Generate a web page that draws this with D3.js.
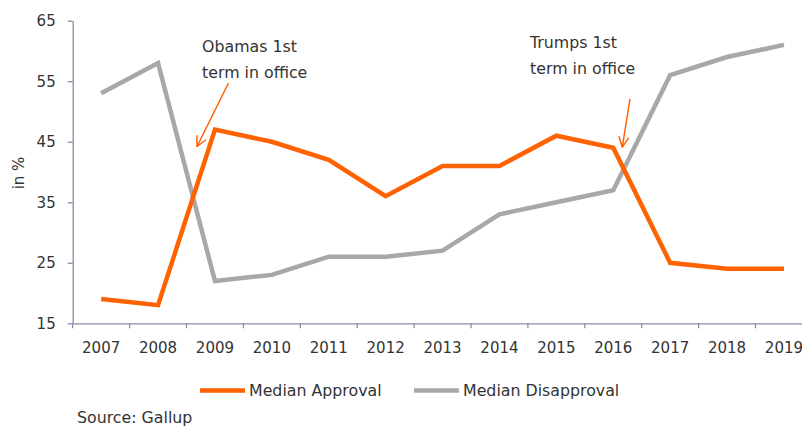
<!DOCTYPE html>
<html>
<head>
<meta charset="utf-8">
<script src="https://cdn.jsdelivr.net/npm/d3@7"></script>
<style>
  body { margin: 0; background: #fff; }
  svg { font-family: "DejaVu Sans", sans-serif; }
</style>
</head>
<body>
<div id="container"></div>
<script>
/* DATA */
const years = [2007, 2008, 2009, 2010, 2011, 2012, 2013, 2014, 2015, 2016, 2017, 2018, 2019];
const approval = [19, 18, 47, 45, 42, 36, 41, 41, 46, 44, 25, 24, 24];
const disapproval = [53, 58, 22, 23, 26, 26, 27, 33, 35, 37, 56, 59, 61];
const yTicks = [15, 25, 35, 45, 55, 65];

/* CONSTANTS */
const width = 802, height = 428;
const margin = { top: 20.7, left: 72.7 };
const plotH = 302.6;
const band = 56.9;
const orange = "#ff6200", grey = "#a8a8a8", axisCol = "#8c8ca6", textCol = "#333";
const fs = 15, fsText = 15.8;

const svg = d3.select("#container")
  .append("svg")
  .attr("width", width)
  .attr("height", height);

const x = d3.scaleBand()
  .domain(years)
  .range([margin.left, margin.left + band * years.length]);

const y = d3.scaleLinear()
  .domain([15, 65])
  .range([margin.top + plotH, margin.top]);

// Y AXIS
const yAxis = svg.append("g")
  .attr("transform", `translate(${margin.left},0)`)
  .call(d3.axisLeft(y).tickValues(yTicks).tickSize(5).tickSizeOuter(0).tickPadding(12));
yAxis.select(".domain").attr("stroke", axisCol).attr("stroke-width", 1.3);
yAxis.selectAll(".tick line").attr("stroke", axisCol).attr("stroke-width", 1.3);
yAxis.selectAll("text").attr("fill", textCol).attr("font-size", fs).attr("font-family", "DejaVu Sans");

// X AXIS
const xAxis = svg.append("g")
  .attr("transform", `translate(0,${y(15)})`)
  .call(d3.axisBottom(x).tickSize(0).tickPadding(19));
xAxis.select(".domain").attr("stroke", axisCol).attr("stroke-width", 1.3);
xAxis.selectAll("text").attr("fill", textCol).attr("font-size", fs).attr("font-family", "DejaVu Sans");
// ticks at band boundaries
xAxis.selectAll("line.bnd")
  .data(years)
  .enter()
  .append("line")
  .attr("class", "bnd")
  .attr("x1", d => x(d)).attr("x2", d => x(d))
  .attr("y1", 0).attr("y2", 5)
  .attr("stroke", axisCol).attr("stroke-width", 1.3);

// Y LABEL
svg.append("text")
  .attr("transform", `translate(24,${y(40) + 1}) rotate(-90)`)
  .attr("text-anchor", "middle")
  .attr("fill", textCol)
  .attr("font-size", fs)
  .text("in %");

// LINES
const lineGen = d3.line()
  .x((d, i) => x(years[i]) + x.bandwidth() / 2)
  .y(d => y(d));

svg.append("path")
  .attr("d", lineGen(disapproval))
  .attr("fill", "none")
  .attr("stroke", grey)
  .attr("stroke-width", 4.5);

svg.append("path")
  .attr("d", lineGen(approval))
  .attr("fill", "none")
  .attr("stroke", orange)
  .attr("stroke-width", 4.5);

// ANNOTATIONS
svg.append("defs").append("marker")
  .attr("id", "arr")
  .attr("viewBox", "0 0 12 12")
  .attr("refX", 11).attr("refY", 6)
  .attr("markerWidth", 12).attr("markerHeight", 12)
  .attr("markerUnits", "userSpaceOnUse")
  .attr("orient", "auto")
  .append("path")
  .attr("d", "M1,1 L11,6 L1,11")
  .attr("fill", "none")
  .attr("stroke", orange)
  .attr("stroke-width", 1.5);

const notes = [
  { lines: ["Obamas 1st", "term in office"], tx: 202, ty: 52, from: [228.5, 83], to: [197, 146.5] },
  { lines: ["Trumps 1st", "term in office"], tx: 530, ty: 48, from: [630, 99], to: [622.3, 147] }
];
notes.forEach(n => {
  const t = svg.append("text")
    .attr("x", n.tx).attr("y", n.ty)
    .attr("fill", textCol)
    .attr("font-size", fsText);
  n.lines.forEach((l, i) => t.append("tspan").attr("x", n.tx).attr("dy", i ? 25.5 : 0).text(l));
  svg.append("line")
    .attr("x1", n.from[0]).attr("y1", n.from[1])
    .attr("x2", n.to[0]).attr("y2", n.to[1])
    .attr("stroke", orange)
    .attr("stroke-width", 1.5)
    .attr("marker-end", "url(#arr)");
});

// LEGEND
const legend = [
  { name: "Median Approval", color: orange, x: 200 },
  { name: "Median Disapproval", color: grey, x: 414 }
];
legend.forEach(l => {
  svg.append("line")
    .attr("x1", l.x).attr("x2", l.x + 45)
    .attr("y1", 390.5).attr("y2", 390.5)
    .attr("stroke", l.color).attr("stroke-width", 4.5);
  svg.append("text")
    .attr("x", l.x + 49).attr("y", 396)
    .attr("fill", textCol)
    .attr("font-size", fsText)
    .text(l.name);
});

// SOURCE
svg.append("text")
  .attr("x", 77).attr("y", 423)
  .attr("fill", textCol)
  .attr("font-size", fsText)
  .text("Source: Gallup");
</script>
</body>
</html>
